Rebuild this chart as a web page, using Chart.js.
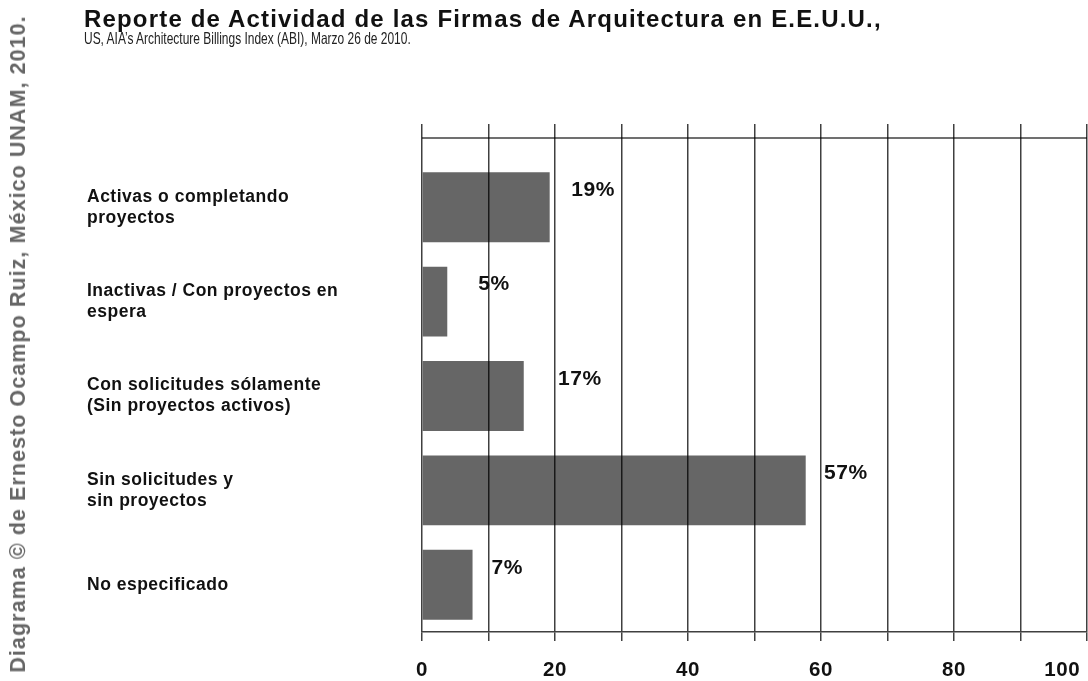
<!DOCTYPE html>
<html><head><meta charset="utf-8">
<script src="https://cdn.jsdelivr.net/npm/chart.js@4"></script>
<style>
html,body{margin:0;padding:0;background:#fff;width:1088px;height:681px;overflow:hidden}
#wrap{position:relative;width:1088px;height:681px}
canvas{position:absolute;left:0;top:0}
.t{position:absolute;white-space:nowrap;font-family:"Liberation Sans",Arial,sans-serif}
#title{left:84px;top:7px;font-size:24px;line-height:24px;font-weight:bold;color:#111}
#subtitle{left:84px;top:30px;font-size:16.5px;line-height:16px;color:#222;transform-origin:0 0}
#credit{left:18px;top:343.5px;font-size:21.5px;line-height:22px;font-weight:bold;color:#666;transform:translate(-50%,-50%) rotate(-90deg)}
</style></head>
<body><div id="wrap">
<canvas id="c" width="1088" height="681"></canvas>
<div class="t" id="title">Reporte de Actividad de las Firmas de Arquitectura en E.E.U.U.,</div>
<div class="t" id="subtitle">US, AIA’s Architecture Billings Index (ABI), Marzo 26 de 2010.</div>
<div class="t" id="credit">Diagrama © de Ernesto Ocampo Ruiz, México UNAM, 2010.</div>
</div>
<script>
const categories = [
  ['Activas o completando', 'proyectos'],
  ['Inactivas / Con proyectos en', 'espera'],
  ['Con solicitudes sólamente', '(Sin proyectos activos)'],
  ['Sin solicitudes y', 'sin proyectos'],
  ['No especificado']
];
const barValues = [19.2, 3.8, 15.3, 57.7, 7.6];
const percentLabels = [19, 5, 17, 57, 7];
const xTickValues = [0, 10, 20, 30, 40, 50, 60, 70, 80, 90, 100];
const xTickLabels = ['0', '', '20', '', '40', '', '60', '', '80', '', '100'];

(function(){
  const t = document.getElementById('title');
  t.style.letterSpacing = ((798 - t.offsetWidth) / t.textContent.length) + 'px';
  const s = document.getElementById('subtitle');
  s.style.transform = 'scaleX(' + (327 / s.offsetWidth) + ')';
  const c = document.getElementById('credit');
  c.style.letterSpacing = ((657 - c.offsetWidth) / c.textContent.length) + 'px';
})();

const FONT = '"Liberation Sans", Arial, sans-serif';
const LINE = 'rgba(0,0,0,0.75)';

const spacingPlugin = {
  id: 'spacing',
  beforeDraw(chart) { chart.ctx.letterSpacing = '0.5px'; },
  afterDraw(chart) { chart.ctx.letterSpacing = '0px'; }
};

const decoPlugin = {
  id: 'deco',
  afterDraw(chart) {
    const ctx = chart.ctx, xs = chart.scales.x, ys = chart.scales.y, area = chart.chartArea;
    ctx.save();
    ctx.strokeStyle = LINE;
    ctx.lineWidth = 1.5;
    const yTop = 138;
    ctx.beginPath();
    ctx.moveTo(xs.getPixelForValue(xTickValues[0]), yTop);
    ctx.lineTo(xs.getPixelForValue(xTickValues[xTickValues.length - 1]), yTop);
    ctx.stroke();
    xTickValues.forEach(v => {
      const px = Math.round(xs.getPixelForValue(v)) - 0.25;
      ctx.beginPath();
      ctx.moveTo(px, 124);
      ctx.lineTo(px, area.top);
      ctx.stroke();
    });
    ctx.letterSpacing = '0.5px';
    ctx.fillStyle = '#111';
    ctx.font = 'bold 21px ' + FONT;
    ctx.textAlign = 'left';
    ctx.textBaseline = 'middle';
    percentLabels.forEach((p, i) => {
      const x = xs.getPixelForValue(p) + 23;
      const y = ys.getPixelForValue(i) - 17;
      ctx.fillText(p + '%', x, y);
    });
    ctx.restore();
  }
};

new Chart(document.getElementById('c'), {
  type: 'bar',
  data: {
    labels: categories,
    datasets: [{
      data: barValues,
      backgroundColor: '#666666',
      borderWidth: 0,
      barPercentage: 0.74,
      categoryPercentage: 1
    }]
  },
  options: {
    indexAxis: 'y',
    responsive: false,
    animation: false,
    devicePixelRatio: 1,
    layout: { padding: { left: 87, top: 160, right: 1, bottom: 0 } },
    plugins: { legend: { display: false }, tooltip: { enabled: false }, title: { display: false } },
    scales: {
      x: {
        min: 0, max: 100,
        afterBuildTicks(scale) { scale.ticks = xTickValues.map(v => ({ value: v })); },
        afterFit(scale) { scale.paddingLeft = 0; scale.paddingRight = 0; scale.height = 49; },
        grid: { color: LINE, lineWidth: 1.5, tickLength: 9, z: 1 },
        border: { color: LINE, width: 1.5, z: 1 },
        ticks: {
          autoSkip: false,
          maxRotation: 0,
          padding: 17,
          color: '#111',
          font: { family: FONT, size: 20.5, weight: 'bold' },
          callback(v, i) {
            const l = xTickLabels[i];
            return i === xTickLabels.length - 1 ? l + '        ' : l;
          }
        }
      },
      y: {
        afterFit(scale) { scale.width = 422 - 87; scale.paddingTop = 0; scale.paddingBottom = 0; },
        grid: { display: false },
        border: { display: false },
        ticks: {
          crossAlign: 'far',
          color: '#111',
          font: { family: FONT, size: 17.5, weight: 'bold', lineHeight: 1.2 }
        }
      }
    }
  },
  plugins: [spacingPlugin, decoPlugin]
});
</script>
</body></html>
